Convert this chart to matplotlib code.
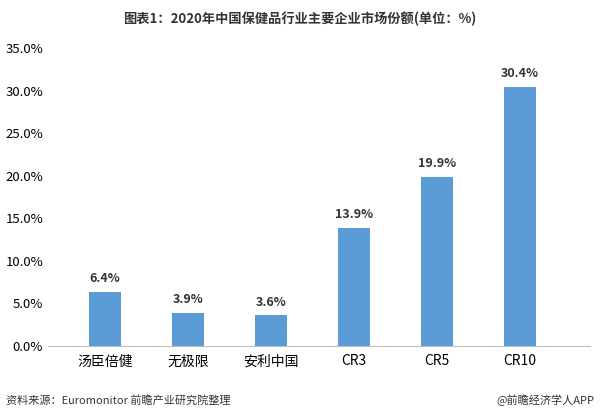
import matplotlib
matplotlib.use("Agg")
import matplotlib.pyplot as plt
from matplotlib.ticker import FuncFormatter

plt.rcParams['font.family'] = ['Noto Sans CJK SC', 'DejaVu Sans']

categories = ["汤臣倍健", "无极限", "安利中国", "CR3", "CR5", "CR10"]
values = [6.4, 3.9, 3.6, 13.9, 19.9, 30.4]

fig = plt.figure(figsize=(6.0, 4.13), dpi=100)
ax = fig.add_axes([0.08, 0.162, 0.903, 0.722])
x = range(len(categories))
ax.bar(x, values, width=0.38, color="#5B9BD5")
for i, v in zip(x, values):
    ax.text(i, v + 0.8, f"{v:.1f}%", ha="center", va="bottom", fontsize=9, fontweight="bold", color="#333333")
ax.set_ylim(0, 35)
ax.set_yticks([i * 5 for i in range(8)])
ax.yaxis.set_major_formatter(FuncFormatter(lambda v, p: f"{v:.1f}%"))
ax.set_xticks(list(x))
ax.set_xticklabels(categories, fontsize=10)
ax.tick_params(axis="y", labelsize=9.5, length=0)
ax.tick_params(axis="x", length=0, pad=6)
ax.set_xlim(-0.69, 5.84)
for s in ["top", "right", "left"]:
    ax.spines[s].set_visible(False)
ax.spines["bottom"].set_color("#BFBFBF")

fig.text(0.5, 0.955, "图表1：2020年中国保健品行业主要企业市场份额(单位：%)", ha="center", va="center", fontsize=9.5, fontweight="bold", color="#333333")
fig.text(0.01, 0.03, "资料来源：Euromonitor 前瞻产业研究院整理", ha="left", va="center", fontsize=8, color="#333333")
fig.text(0.99, 0.03, "@前瞻经济学人APP", ha="right", va="center", fontsize=8, color="#333333")
fig.savefig("out.png", dpi=100)
